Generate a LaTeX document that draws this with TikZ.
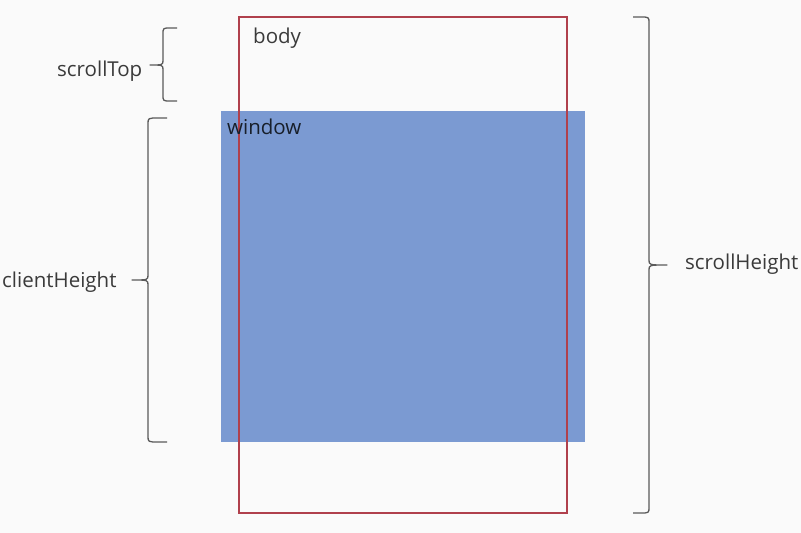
\documentclass[tikz,border=0pt]{standalone}
\usepackage{fontspec}
\setmainfont{Open Sans}
\definecolor{bg}{HTML}{FAFAFA}
\definecolor{winblue}{HTML}{7B9AD2}
\definecolor{bodyred}{HTML}{B0404C}
\definecolor{bracegray}{HTML}{5A5A5A}
\definecolor{txtgray}{HTML}{3A3A3A}
\newcommand\mybrace[6]{% e, b, t, y1, ym, y2
  \draw[bracegray,line width=1.3pt,line join=round]
    (#1,#4) -- ({#2+(#1-#2)*0.55},#4) .. controls (#2,#4) .. ({#2},{#4+6})
    -- (#2,{#5-5}) .. controls (#2,#5) .. (#3,#5)
    .. controls (#2,#5) .. (#2,{#5+5})
    -- (#2,{#6-6}) .. controls (#2,#6) .. ({#2+(#1-#2)*0.55},#6) -- (#1,#6);}
\begin{document}
\begin{tikzpicture}[x=1pt,y=-1pt,
  lbl/.style={font=\fontsize{20.5}{23}\selectfont, text=txtgray, inner sep=0pt, anchor=base west}]
\fill[bg] (0,0) rectangle (801,533);
\useasboundingbox (0,0) rectangle (801,533);
% window
\fill[winblue] (221,111) rectangle (585,442);
% body
\draw[bodyred, line width=1.6pt] (239,17) rectangle (567,513);
% braces
\mybrace{177}{163}{150}{28}{65}{101}
\mybrace{167}{148}{132}{118}{280}{442}
\mybrace{633}{649}{667}{17}{265}{513}
% labels
\node[lbl] (scrolltop) at (57,76) {scrollTop};
\node[lbl] (clientheight) at (2,287) {clientHeight};
\node[lbl] (scrollheight) at (685,269) {scrollHeight};
\node[lbl] (body) at (253,43) {body};
\node[lbl, text=black!80!winblue] (window) at (227,134) {window};
\end{tikzpicture}
\end{document}
